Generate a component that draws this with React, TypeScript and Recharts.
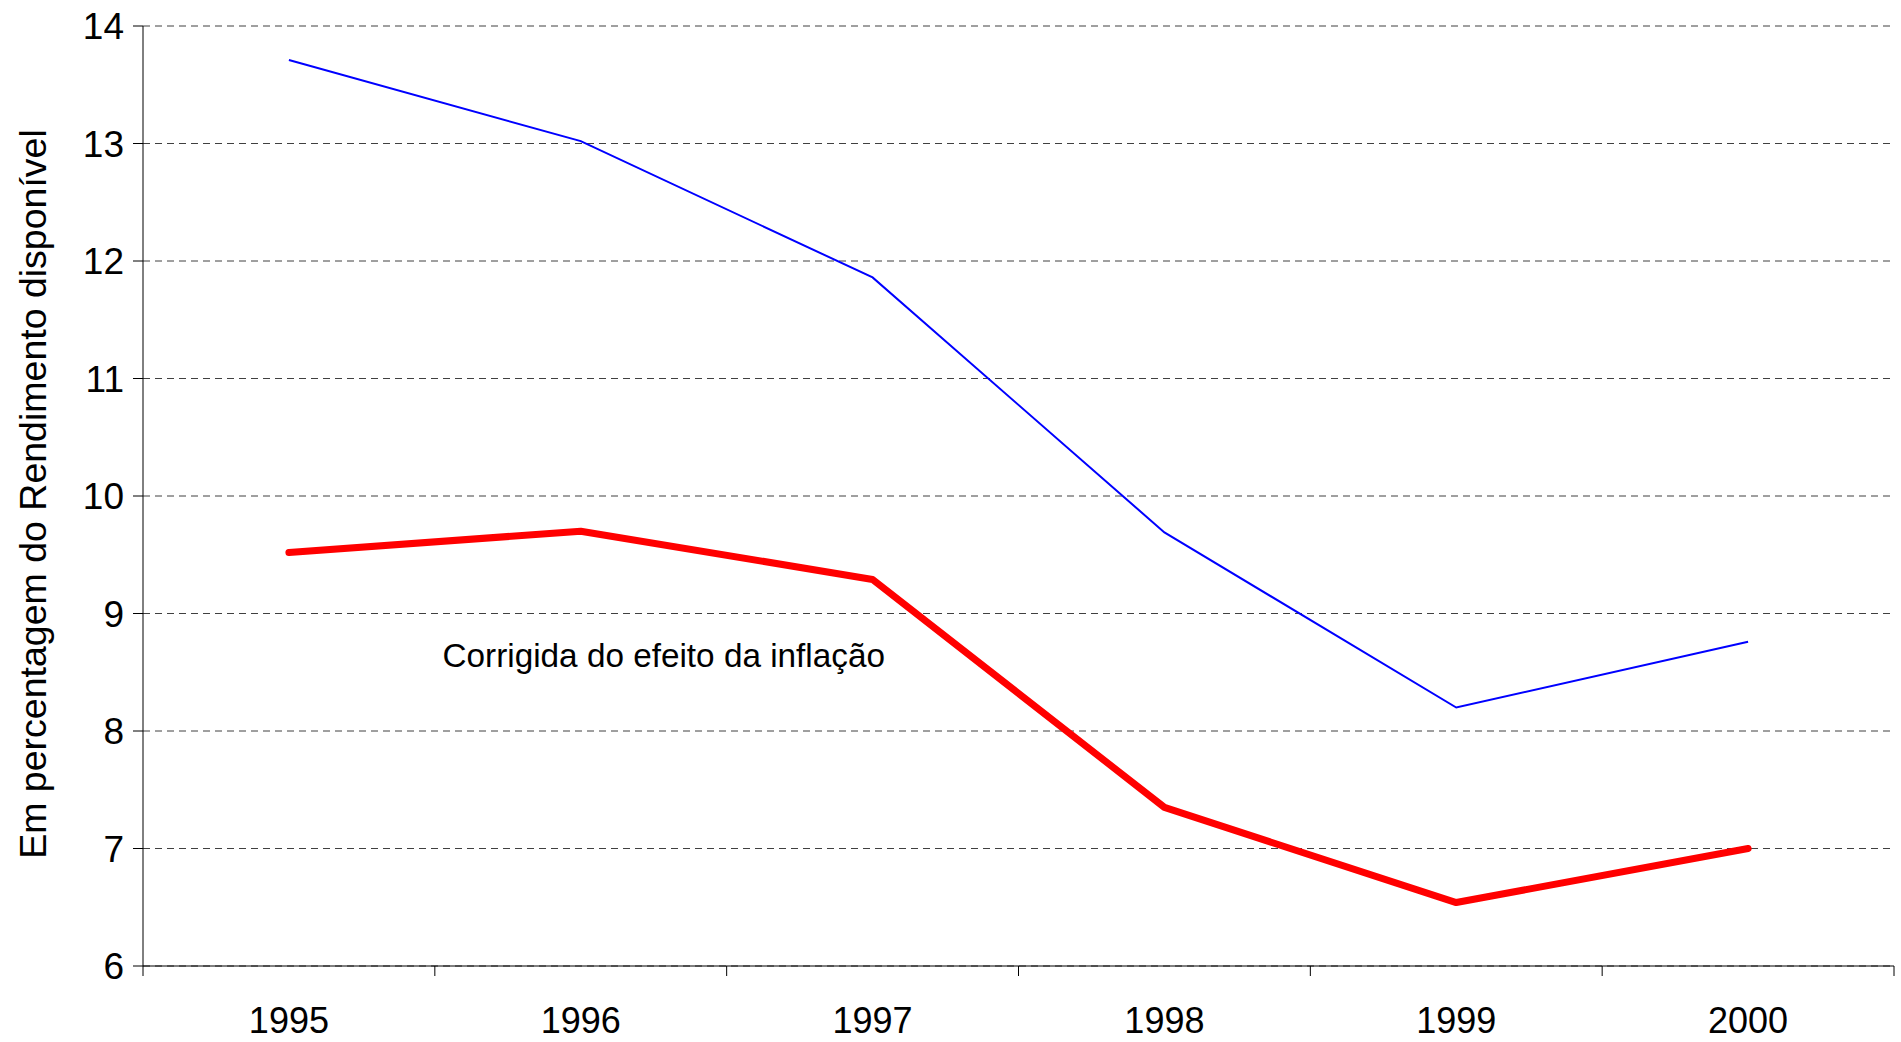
import { LineChart, Line, XAxis, YAxis, CartesianGrid, ReferenceDot } from "recharts";

const years = ["1995", "1996", "1997", "1998", "1999", "2000"];
const nominal = [13.71, 13.02, 11.86, 9.69, 8.2, 8.76];
const corrected = [9.52, 9.7, 9.29, 7.35, 6.54, 7.0];
const yTicks = [6, 7, 8, 9, 10, 11, 12, 13, 14];

const data = years.map((year, i) => ({ year, nominal: nominal[i], corrected: corrected[i] }));

const W = 1901;
const H = 1042;
const LEFT = 143;
const RIGHT = 7;
const FONT = "'Liberation Sans', Arial, sans-serif";
const BAND = (W - LEFT - RIGHT) / years.length;

// tick label at band centre, tick mark at band boundaries
function YearTick(props: any) {
  const { x, y, payload, index } = props;
  const half = BAND / 2;
  return (
    <g>
      <line x1={x - half} x2={x - half} y1={y} y2={y + 10} stroke="#000" />
      {index === years.length - 1 && (
        <line x1={x + half} x2={x + half} y1={y} y2={y + 10} stroke="#000" />
      )}
      <text x={x} y={y + 41} dy="0.71em" textAnchor="middle" fontSize={36} fontFamily={FONT} fill="#000">
        {payload.value}
      </text>
    </g>
  );
}

export default function App() {
  return (
    <div style={{ position: "fixed", left: 0, top: 0, width: W, height: H, background: "#fff" }}>
      <LineChart width={W} height={H} data={data} margin={{ top: 26, right: RIGHT, left: 0, bottom: 0 }}>
        <CartesianGrid vertical={false} stroke="#404040" strokeDasharray="7 5" />
        <XAxis
          dataKey="year"
          scale="band"
          height={76}
          tickLine={false}
          tickSize={0}
          tickMargin={0}
          axisLine={{ stroke: "#000" }}
          tick={<YearTick />}
          interval={0}
        />
        <YAxis
          domain={[6, 14]}
          ticks={yTicks}
          width={LEFT}
          tickSize={10}
          tickMargin={9}
          axisLine={{ stroke: "#000" }}
          tickLine={{ stroke: "#000" }}
          tick={{ fontSize: 37, fill: "#000", fontFamily: FONT }}
          label={{
            content: ({ viewBox }: any) => {
              const cy = viewBox.y + viewBox.height / 2 - 2;
              return (
                <text
                  x={33}
                  y={cy}
                  transform={`rotate(-90, 33, ${cy})`}
                  textAnchor="middle"
                  dominantBaseline="central"
                  fontSize={37.5}
                  fontFamily={FONT}
                  fill="#000"
                >
                  Em percentagem do Rendimento disponível
                </text>
              );
            },
          }}
        />
        <Line
          type="linear"
          dataKey="nominal"
          stroke="#0000FF"
          strokeWidth={2}
          dot={false}
          isAnimationActive={false}
        />
        <Line
          type="linear"
          dataKey="corrected"
          stroke="#FF0000"
          strokeWidth={7}
          strokeLinecap="round"
          strokeLinejoin="round"
          dot={false}
          isAnimationActive={false}
        />
        <ReferenceDot
          x="1996"
          y={8.64}
          r={0}
          fill="none"
          stroke="none"
          label={{
            content: ({ viewBox }: any) => (
              <text
                x={viewBox.x + 83}
                y={viewBox.y}
                textAnchor="middle"
                dominantBaseline="central"
                fontSize={33.3}
                fontFamily={FONT}
                fill="#000"
              >
                Corrigida do efeito da inflação
              </text>
            ),
          }}
        />
      </LineChart>
    </div>
  );
}
